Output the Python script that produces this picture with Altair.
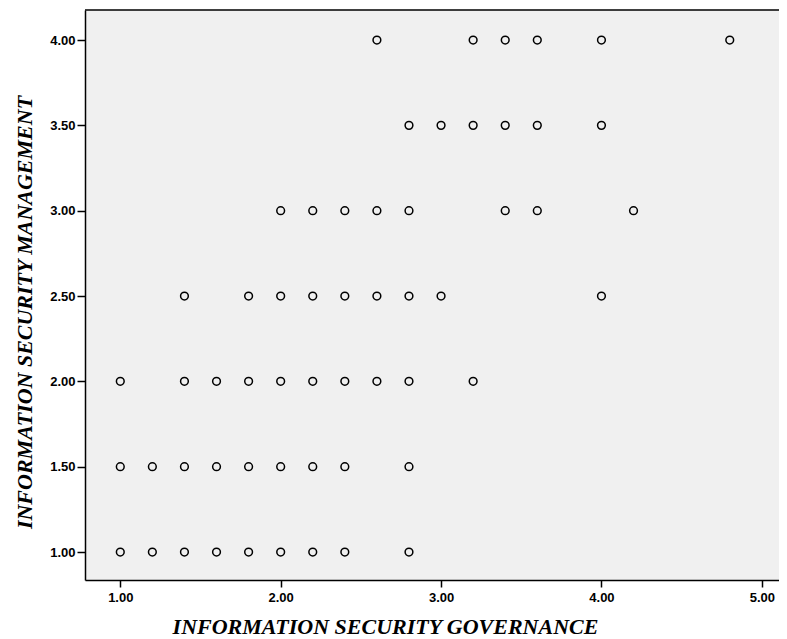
import altair as alt
import pandas as pd

# Information Security Governance (x) per Management level (y)
y_levels = [4.00, 3.50, 3.00, 2.50, 2.00, 1.50, 1.00]
x_at_level = [
    [2.6, 3.2, 3.4, 3.6, 4.0, 4.8],
    [2.8, 3.0, 3.2, 3.4, 3.6, 4.0],
    [2.0, 2.2, 2.4, 2.6, 2.8, 3.4, 3.6, 4.2],
    [1.4, 1.8, 2.0, 2.2, 2.4, 2.6, 2.8, 3.0, 4.0],
    [1.0, 1.4, 1.6, 1.8, 2.0, 2.2, 2.4, 2.6, 2.8, 3.2],
    [1.0, 1.2, 1.4, 1.6, 1.8, 2.0, 2.2, 2.4, 2.8],
    [1.0, 1.2, 1.4, 1.6, 1.8, 2.0, 2.2, 2.4, 2.8],
]
x_ticks = [1.0, 2.0, 3.0, 4.0, 5.0]
y_ticks = [1.0, 1.5, 2.0, 2.5, 3.0, 3.5, 4.0]

rows = []
for yv, xs in zip(y_levels, x_at_level):
    for xv in xs:
        rows.append({"gov": xv, "mgmt": yv})
df = pd.DataFrame(rows)

W, H = 694, 570

points = alt.Chart(df).mark_point(
    shape="circle", filled=False, stroke="black", strokeWidth=1.5, size=60, opacity=1
).encode(
    x=alt.X("gov:Q",
            scale=alt.Scale(domain=[0.78, 5.107], nice=False, zero=False),
            axis=alt.Axis(values=x_ticks, format=".2f", grid=False,
                          title="INFORMATION SECURITY GOVERNANCE",
                          tickSize=7, labelPadding=4, titleX=300, titleY=53,
                          titleBaseline="alphabetic", titleAlign="center", titleAnchor="start")),
    y=alt.Y("mgmt:Q",
            scale=alt.Scale(domain=[0.836, 4.176], nice=False, zero=False),
            axis=alt.Axis(values=y_ticks, format=".2f", grid=False,
                          title="INFORMATION SECURITY MANAGEMENT",
                          tickSize=8, labelPadding=2, titleX=-54, titleY=302,
                          titleBaseline="alphabetic", titleAlign="center", titleAnchor="start",
                          titleAngle=270)),
)

top_border = alt.Chart(pd.DataFrame({"a": [0]})).mark_rule(
    color="black", strokeWidth=1.5
).encode(x=alt.value(0), x2=alt.value(W), y=alt.value(0))

chart = alt.layer(points, top_border).properties(
    width=W, height=H,
    autosize=alt.AutoSizeParams(type="none"),
    padding={"left": 77, "top": 2, "right": 0, "bottom": 59},
    background="white",
).configure_view(
    fill="#f0f0f0", strokeWidth=0
).configure_axis(
    domainColor="black", domainWidth=1.5, tickColor="black", tickWidth=1.5,
    labelFont="Liberation Sans", labelFontWeight="bold", labelFontSize=13, labelColor="black",
    titleFont="Liberation Serif", titleFontWeight="bold", titleFontStyle="italic",
    titleFontSize=22, titleColor="black",
)

chart.save("out.html", embed_options={"renderer": "svg", "actions": False})
